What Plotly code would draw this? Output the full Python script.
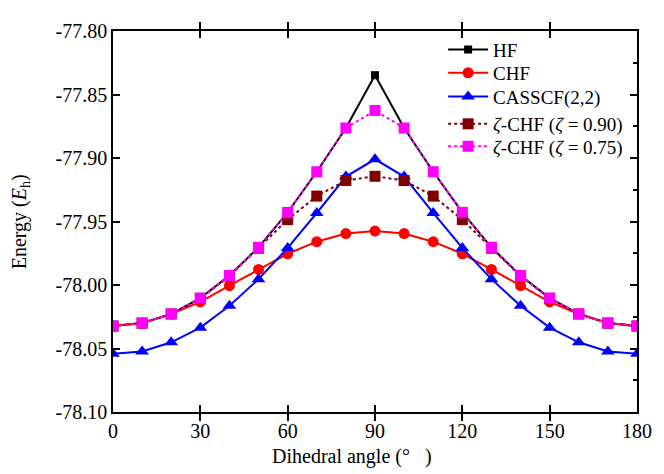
import plotly.graph_objects as go

angles = list(range(0, 181, 10))

hf = [-78.0323, -78.0300, -78.0228, -78.0103, -77.9926, -77.9703, -77.9428, -77.9108, -77.8764, -77.8348,
      -77.8764, -77.9108, -77.9428, -77.9703, -77.9926, -78.0103, -78.0228, -78.0300, -78.0323]
chf = [-78.0323, -78.0300, -78.0228, -78.0133, -78.0005, -77.9877, -77.9754, -77.9659, -77.9595, -77.9575,
       -77.9595, -77.9659, -77.9754, -77.9877, -78.0005, -78.0133, -78.0228, -78.0300, -78.0323]
casscf = [-78.0541, -78.0523, -78.0451, -78.0336, -78.0164, -77.9954, -77.9708, -77.9433, -77.9146, -77.9010,
          -77.9146, -77.9433, -77.9708, -77.9954, -78.0164, -78.0336, -78.0451, -78.0523, -78.0541]
zchf090 = [-78.0323, -78.0300, -78.0228, -78.0105, -77.9930, -77.9710, -77.9485, -77.9300, -77.9177, -77.9144,
           -77.9177, -77.9300, -77.9485, -77.9710, -77.9930, -78.0105, -78.0228, -78.0300, -78.0323]
zchf075 = [-78.0323, -78.0300, -78.0228, -78.0103, -77.9926, -77.9703, -77.9428, -77.9108, -77.8764, -77.8626,
           -77.8764, -77.9108, -77.9428, -77.9703, -77.9926, -78.0103, -78.0228, -78.0300, -78.0323]

names = ["HF", "CHF", "CASSCF(2,2)",
         "<i>ζ</i>-CHF (<i>ζ</i> = 0.90)", "<i>ζ</i>-CHF (<i>ζ</i> = 0.75)"]
x_ticks = [0, 30, 60, 90, 120, 150, 180]
y_ticks = [-77.80, -77.85, -77.90, -77.95, -78.00, -78.05, -78.10]
y_tick_labels = ["-77.80", "-77.85", "-77.90", "-77.95", "-78.00", "-78.05", "-78.10"]
x_title = "Dihedral angle (°   )"
y_title = "Energy (<i>E</i><sub>h</sub>)"

FONT = "Liberation Serif, Times New Roman, serif"

fig = go.Figure()
styles = [
    (hf, "black", "solid", "square", 8),
    (chf, "#ff0000", "solid", "circle", 11),
    (casscf, "#0000ff", "solid", "triangle-up", 12),
    (zchf090, "#800000", "dot", "square", 11),
    (zchf075, "#ff00ff", "dot", "square", 11),
]
legend_ids = ["legend", "legend2", "legend3", "legend4", "legend5"]
legend_y = [0.951, 0.890, 0.828, 0.756, 0.697]

for (vals, col, dash, sym, sz), nm, lid in zip(styles, names, legend_ids):
    fig.add_trace(go.Scatter(
        x=angles, y=vals, name=nm, mode="lines+markers", legend=lid,
        line=dict(color=col, width=2, dash=dash),
        marker=dict(color=col, symbol=sym, size=sz, line=dict(width=0)),
    ))

# right axis carrying the minor ticks (no labels)
fig.add_trace(go.Scatter(x=[0], y=[-77.95], yaxis="y2", showlegend=False,
                         hoverinfo="skip", mode="markers", marker=dict(opacity=0)))

legend_common = dict(x=0.630, xanchor="left", yanchor="middle",
                     bgcolor="rgba(0,0,0,0)", font=dict(family=FONT, size=19),
                     itemwidth=40)

layout_legends = {lid: dict(legend_common, y=ly) for lid, ly in zip(legend_ids, legend_y)}

fig.update_layout(
    width=656, height=466,
    margin=dict(l=105, r=18, t=14, b=62),
    paper_bgcolor="white", plot_bgcolor="white",
    font=dict(family=FONT, size=20, color="black"),
    showlegend=True,
    xaxis=dict(range=[0, 180], tickvals=x_ticks, ticktext=[str(v) for v in x_ticks],
               showgrid=False, zeroline=False, showline=True, linecolor="black", linewidth=1.5,
               mirror="allticks", ticks="inside", ticklen=7, tickwidth=1.5, tickcolor="black"),
    yaxis=dict(range=[-78.10, -77.80], tickvals=y_ticks, ticktext=y_tick_labels,
               showgrid=False, zeroline=False, showline=True, linecolor="black", linewidth=1.5,
               mirror=False, ticks="inside", ticklen=7, tickwidth=1.5, tickcolor="black"),
    yaxis2=dict(range=[-78.10, -77.80], overlaying="y", side="right",
                tickvals=y_ticks, showticklabels=False,
                showgrid=False, zeroline=False, showline=True, linecolor="black", linewidth=1.5,
                ticks="inside", ticklen=7, tickwidth=1.5, tickcolor="black",
                minor=dict(dtick=0.025, tick0=-77.80, ticks="inside", ticklen=4, tickwidth=1.5,
                           tickcolor="black", showgrid=False)),
    annotations=[
        dict(text=y_title, textangle=-90, xref="paper", yref="paper", x=-0.176, y=0.5,
             xanchor="center", yanchor="middle", showarrow=False,
             font=dict(family=FONT, size=20)),
        dict(text=x_title, xref="paper", yref="paper", x=0.456, y=-0.118,
             xanchor="center", yanchor="middle", showarrow=False,
             font=dict(family=FONT, size=20)),
    ],
    **layout_legends,
)

fig.write_html("out.html")
